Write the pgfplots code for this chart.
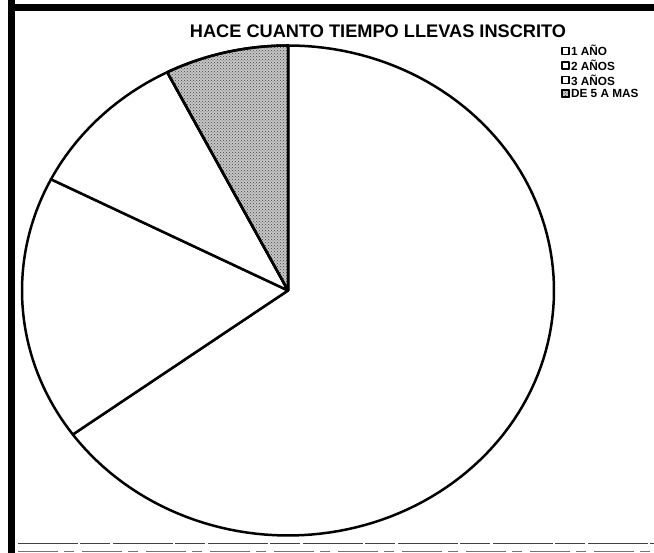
\documentclass[border=0pt]{standalone}
\usepackage{pgfplots}
\usepackage{pgfplotstable}
\usepackage{fontspec}
\setmainfont{Liberation Sans}
\pgfplotsset{compat=1.18}
\usetikzlibrary{patterns}

\pgfplotstableread[col sep=comma]{
label,value
1 AÑO,26
2 AÑOS,7
3 AÑOS,4
DE 5 A MAS,3
}\piedata

\begin{document}
\begin{tikzpicture}
\pgfplotstablegetelem{0}{value}\of\piedata \let\vA\pgfplotsretval
\pgfplotstablegetelem{1}{value}\of\piedata \let\vB\pgfplotsretval
\pgfplotstablegetelem{2}{value}\of\piedata \let\vC\pgfplotsretval
\pgfplotstablegetelem{3}{value}\of\piedata \let\vD\pgfplotsretval
\pgfmathsetmacro\tot{\vA+\vB+\vC+\vD}
\pgfmathsetmacro\eA{90-360*\vA/\tot}
\pgfmathsetmacro\eB{\eA-360*\vB/\tot}
\pgfmathsetmacro\eC{\eB-360*\vC/\tot}
\pgfmathsetmacro\eD{\eC-360*\vD/\tot}
\begin{axis}[
  width=654pt, height=553pt, scale only axis,
  xmin=0, xmax=654, ymin=0, ymax=553,
  hide axis, clip=false,
  legend style={draw=none, fill=none, at={(axis cs:561,508)}, anchor=north west,
    inner sep=0pt, row sep=2pt, font=\bfseries\fontsize{11.8}{13.6}\selectfont,
    cells={anchor=west}, nodes={inner xsep=1.2pt, inner ysep=0.3pt}},
  legend image code/.code={\draw[#1, line width=1.6pt] (0pt,-3pt) rectangle (7pt,4pt);},
  slice/.style={draw=black, line width=2.5pt, line join=round},
]
\addplot[slice, fill=white, domain=\eA:90, samples=120, variable=\t]
  ({288+266*cos(\t)},{262.5+245*sin(\t)}) -- (axis cs:288,262.5) -- cycle;
\addlegendentry{1 AÑO}
\addplot[slice, fill=white, domain=\eB:\eA, samples=40, variable=\t]
  ({288+266*cos(\t)},{262.5+245*sin(\t)}) -- (axis cs:288,262.5) -- cycle;
\addlegendentry{2 AÑOS}
\addplot[slice, fill=white, domain=\eC:\eB, samples=30, variable=\t]
  ({288+266*cos(\t)},{262.5+245*sin(\t)}) -- (axis cs:288,262.5) -- cycle;
\addlegendentry{3 AÑOS}
\addplot[slice, fill=black!22, postaction={pattern=crosshatch dots, pattern color=black!75}, domain=\eD:\eC, samples=30, variable=\t]
  ({288+266*cos(\t)},{262.5+245*sin(\t)}) -- (axis cs:288,262.5) -- cycle;
\addlegendentry{DE 5 A MAS}

\node[anchor=base, font=\bfseries\fontsize{18.2}{21}\selectfont, inner sep=0pt]
  at (axis cs:378,515) {HACE CUANTO TIEMPO LLEVAS INSCRITO};

% frame
\draw[line width=7.5pt, black] (axis cs:11.5,553) -- (axis cs:11.5,0);
\draw[line width=7pt, black] (axis cs:8,545.5) -- (axis cs:654,545.5);
\draw[line width=0.8pt, black!75, dash pattern=on 60pt off 2pt on 30pt off 3pt] (axis cs:18,10) -- (axis cs:654,10);
\draw[line width=0.8pt, black!55, dash pattern=on 40pt off 6pt on 10pt off 8pt] (axis cs:18,2) -- (axis cs:654,2);
\end{axis}
\pgfresetboundingbox
\path[use as bounding box] (0,0) rectangle (654pt,553pt);
\end{tikzpicture}
\end{document}
